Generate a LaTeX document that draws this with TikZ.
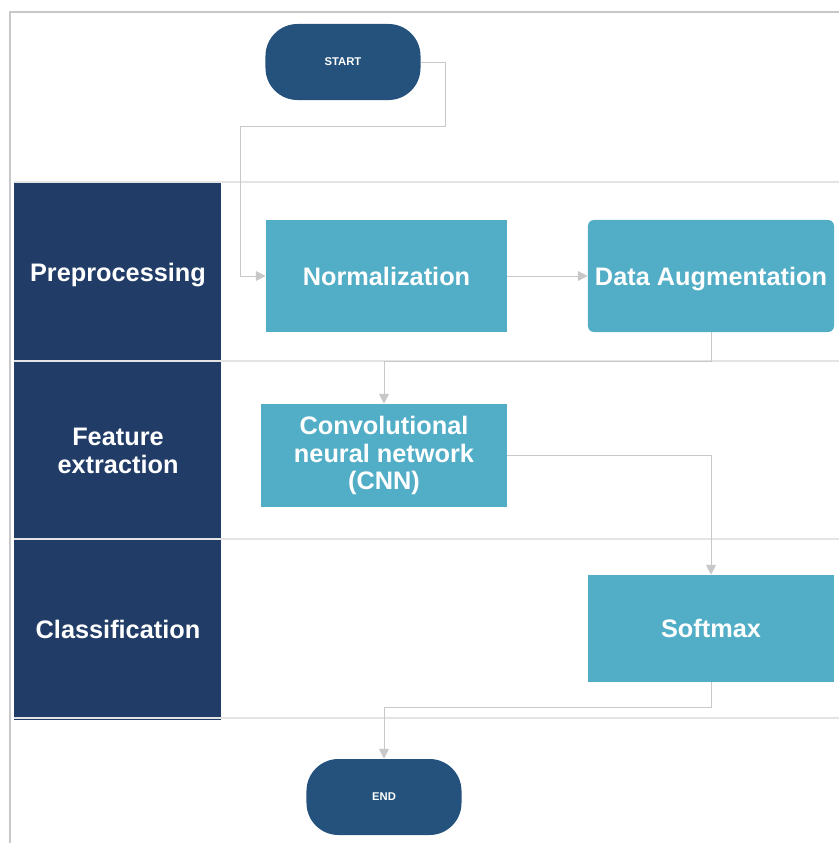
\documentclass[tikz,border=0pt]{standalone}
\usepackage{fontspec}
\setmainfont{Liberation Sans}
\usetikzlibrary{arrows.meta}

\definecolor{lanenavy}{HTML}{213D67}
\definecolor{termblue}{HTML}{24527C}
\definecolor{boxteal}{HTML}{51AEC6}
\definecolor{flowgray}{HTML}{C8C8C8}
\definecolor{sepgray}{HTML}{E4E4E4}

\tikzset{
    lanelabel/.style={text=white, font=\bfseries\fontsize{18}{19.5}\selectfont, align=center},
    oneline/.style={text height=13pt, text depth=0pt},
    terminal/.style={fill=termblue, text=white, rounded corners=0.8cm, minimum width=3.875cm,
        minimum height=1.9cm, font=\bfseries\fontsize{8}{9}\selectfont, inner sep=0pt},
    procbox/.style={fill=boxteal, text=white, font=\bfseries\fontsize{18}{19.5}\selectfont,
        align=center, inner sep=0pt, minimum width=6.15cm},
    flow/.style={draw=flowgray, line width=0.7pt, -{Triangle[length=7pt, width=7pt]}}
}

\begin{document}
\begin{tikzpicture}[x=0.025cm, y=-0.025cm]
    \def\xl{14};
    \def\xc{221};
    \def\xr{839};

    \useasboundingbox (0,0) rectangle (839,843);

% frame
    \draw[flowgray, line width=1pt] (10,843) -- (10,12) -- (839,12);

% lanes
    \fill[lanenavy] (\xl,182) rectangle (\xc,720);
    \foreach \y in {182, 361, 539, 718}
        \draw[sepgray, line width=0.8pt] (\xl,\y) -- (\xr,\y);

    \node[lanelabel, oneline] (pre) at (118,272) {Preprocessing};
    \node[lanelabel] (feat) at (118,451) {Feature\\extraction};
    \node[lanelabel, oneline] (cls) at (118,629) {Classification};

% terminals
    \node[terminal] (start) at (343,62) {START};
    \node[terminal] (end) at (384,797) {END};

% steps
    \node[procbox, oneline, minimum width=6.025cm, minimum height=2.8cm] (norm) at (386.5,276) {Normalization};
    \node[procbox, oneline, minimum height=2.8cm, rounded corners=0.15cm] (aug) at (711,276) {Data Augmentation};
    \node[procbox, minimum height=2.575cm] (cnn) at (384,455.5) {Convolutional\\neural network\\(CNN)};
    \node[procbox, oneline, minimum height=2.675cm] (soft) at (711,628.5) {Softmax};

% connectors
    \draw[flow] (start.east) -- ++(25,0) |- (240,126) |- (norm.west);
    \draw[flow] (norm) -- (aug);
    \draw[flow] (aug.south) |- (384,361) -- (cnn.north);
    \draw[flow] (cnn.east) -| (soft.north);
    \draw[flow] (soft.south) |- (384,707) -- (end.north);

\end{tikzpicture}
\end{document}
